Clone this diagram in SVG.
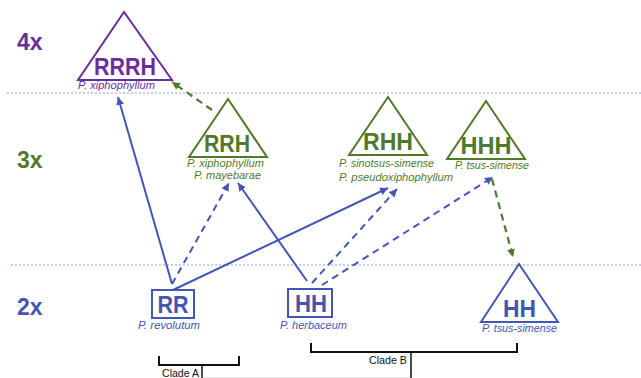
<svg xmlns="http://www.w3.org/2000/svg" width="641" height="378" viewBox="0 0 641 378">
<style>
.lvl{font-family:"Liberation Sans",Arial,sans-serif;font-weight:bold;font-size:23px}
.big{font-family:"Liberation Sans",Arial,sans-serif;font-weight:bold;font-size:24px;text-anchor:middle}
.sp{font-family:"Liberation Sans",Arial,sans-serif;font-style:italic;font-size:11.5px}
.clade{font-family:"Liberation Sans",Arial,sans-serif;font-size:11.5px;fill:#111}
.purple{fill:#6a2d9c}
.green{fill:#4f7a2b}
.blue{fill:#4356b6}
.tri{fill:none;stroke-width:2;stroke-linejoin:miter}
.sep{stroke:#a9c1e8;stroke-width:1.5;stroke-dasharray:2 2}
.br{fill:none;stroke:#111;stroke-width:2}
.cb{fill:none;stroke:#4356b6;stroke-width:2}
.cg{fill:none;stroke:#4f7a2b;stroke-width:2.2}
.dash{stroke-dasharray:7 5}
</style>
<defs>
<marker id="ab" viewBox="0 0 10 10" refX="10" refY="5" markerWidth="8" markerHeight="8" markerUnits="userSpaceOnUse" orient="auto">
<path d="M0,0 L10,5 L0,10 z" fill="#4356b6"/>
</marker>
<marker id="ag" viewBox="0 0 10 10" refX="10" refY="5" markerWidth="8" markerHeight="8" markerUnits="userSpaceOnUse" orient="auto">
<path d="M0,0 L10,5 L0,10 z" fill="#4f7a2b"/>
</marker>
</defs>
<rect width="641" height="378" fill="#fff"/>

<g id="separators">
<line class="sep" x1="7" y1="93" x2="641" y2="93"/>
<line class="sep" x1="11" y1="265" x2="641" y2="265"/>
</g>

<g id="levels">
<text class="lvl purple" x="17" y="50">4x</text>
<text class="lvl green" x="17" y="168">3x</text>
<text class="lvl blue" x="17" y="315">2x</text>
</g>

<g id="connectors">
<line class="cb" x1="172" y1="284" x2="118" y2="97" marker-end="url(#ab)"/>
<line class="cb dash" x1="172" y1="284" x2="229" y2="183" marker-end="url(#ab)"/>
<line class="cb" x1="173" y1="290" x2="388" y2="188" marker-end="url(#ab)"/>
<line class="cb" x1="307" y1="281" x2="238" y2="183" marker-end="url(#ab)"/>
<line class="cb dash" x1="312" y1="283" x2="397" y2="189" marker-end="url(#ab)"/>
<line class="cb dash" x1="322" y1="285" x2="493" y2="177" marker-end="url(#ab)"/>
<line class="cg dash" x1="492" y1="179" x2="513" y2="257" marker-end="url(#ag)"/>
<line class="cg dash" x1="212" y1="110" x2="172" y2="82" marker-end="url(#ag)"/>
</g>

<g id="RRRH">
<polygon class="tri" stroke="#6a2d9c" points="124,12 78,80 172,80"/>
<text class="big purple" x="125" y="75" font-size="26" textLength="62" lengthAdjust="spacingAndGlyphs">RRRH</text>
<text class="sp purple" x="78" y="89" textLength="77" lengthAdjust="spacingAndGlyphs">P. xiphophyllum</text>
</g>

<g id="RRH">
<polygon class="tri" stroke="#4f7a2b" points="228,99 189,157 267,157"/>
<text class="big green" x="227" y="152" textLength="46" lengthAdjust="spacingAndGlyphs">RRH</text>
<text class="sp green" x="187" y="167" textLength="77" lengthAdjust="spacingAndGlyphs">P. xiphophyllum</text>
<text class="sp green" x="194" y="179" textLength="67" lengthAdjust="spacingAndGlyphs">P. mayebarae</text>
</g>

<g id="RHH">
<polygon class="tri" stroke="#4f7a2b" points="388,97 349,155 427,155"/>
<text class="big green" x="388" y="150" textLength="50" lengthAdjust="spacingAndGlyphs">RHH</text>
<text class="sp green" x="339" y="167" textLength="95" lengthAdjust="spacingAndGlyphs">P. sinotsus-simense</text>
<text class="sp green" x="339" y="181" textLength="114" lengthAdjust="spacingAndGlyphs">P. pseudoxiphophyllum</text>
</g>

<g id="HHH">
<polygon class="tri" stroke="#4f7a2b" points="486,101 447,159 525,159"/>
<text class="big green" x="486" y="154" textLength="51" lengthAdjust="spacingAndGlyphs">HHH</text>
<text class="sp green" x="455" y="169" textLength="74" lengthAdjust="spacingAndGlyphs">P. tsus-simense</text>
</g>

<g id="RR">
<rect x="152" y="290" width="42" height="28" fill="none" stroke="#4356b6" stroke-width="2"/>
<text class="big blue" x="173" y="313" textLength="31" lengthAdjust="spacingAndGlyphs">RR</text>
<text class="sp blue" x="138" y="329" textLength="62" lengthAdjust="spacingAndGlyphs">P. revolutum</text>
</g>

<g id="HH-herbaceum">
<rect x="288" y="289" width="44" height="28" fill="none" stroke="#4356b6" stroke-width="2"/>
<text class="big blue" x="311" y="312" textLength="32" lengthAdjust="spacingAndGlyphs">HH</text>
<text class="sp blue" x="280" y="329" textLength="67" lengthAdjust="spacingAndGlyphs">P. herbaceum</text>
</g>

<g id="HH-tsus">
<polygon class="tri" stroke="#4356b6" points="519,264 481,322 558,322"/>
<text class="big blue" x="519.5" y="317" textLength="33" lengthAdjust="spacingAndGlyphs">HH</text>
<text class="sp blue" x="482" y="332" textLength="75" lengthAdjust="spacingAndGlyphs">P. tsus-simense</text>
</g>

<g id="cladeA">
<path class="br" d="M159,356 V365 H239 V356"/>
<line x1="202" y1="365" x2="202" y2="378" stroke="#111" stroke-width="1.5"/>
<text class="clade" x="162" y="377" textLength="37" lengthAdjust="spacingAndGlyphs">Clade A</text>
</g>

<g id="cladeB">
<path class="br" d="M311,343 V352 H517 V343"/>
<line x1="411" y1="352" x2="411" y2="378" stroke="#111" stroke-width="1.5"/>
<text class="clade" x="369" y="364" textLength="38" lengthAdjust="spacingAndGlyphs">Clade B</text>
</g>

<line x1="203" y1="377.5" x2="410" y2="377.5" stroke="#e6e6e6" stroke-width="1"/>
</svg>
